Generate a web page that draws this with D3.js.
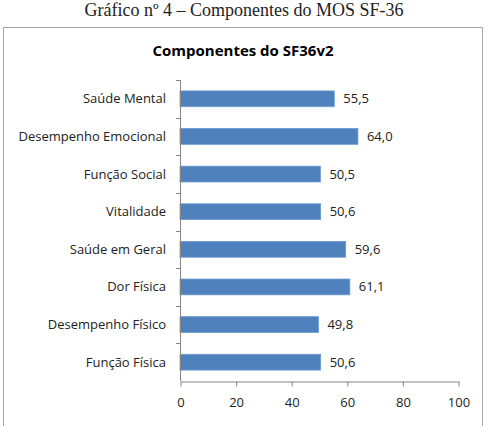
<!DOCTYPE html>
<html>
<head>
<meta charset="utf-8">
<script src="https://cdn.jsdelivr.net/npm/d3@7"></script>
<style>
  body { margin: 0; background: #fff; }
</style>
</head>
<body>
<svg id="chart"></svg>
<script>
// categories from top to bottom
const categories = ['Saúde Mental', 'Desempenho Emocional', 'Função Social', 'Vitalidade',
    'Saúde em Geral', 'Dor Física', 'Desempenho Físico', 'Função Física'];
const values = [55.5, 64.0, 50.5, 50.6, 59.6, 61.1, 49.8, 50.6];
const xticks = [0, 20, 40, 60, 80, 100];

const width = 492, height = 426;
const margin = {top: 80, right: 34, bottom: 45, left: 180};

const svg = d3.select('#chart')
    .attr('width', width)
    .attr('height', height);

// caption above the chart frame
svg.append('text')
    .attr('x', 244)
    .attr('y', 16)
    .attr('text-anchor', 'middle')
    .style('font-family', '"Liberation Serif", serif')
    .style('font-size', '18px')
    .style('fill', '#222')
    .text('Gráfico nº 4 – Componentes do MOS SF-36');

// chart frame
svg.append('rect')
    .attr('x', 3.5)
    .attr('y', 27.5)
    .attr('width', 479)
    .attr('height', 410)
    .attr('fill', '#fff')
    .attr('stroke', '#a6a6a6')
    .attr('stroke-width', 1);

svg.append('text')
    .attr('x', 243)
    .attr('y', 56)
    .attr('text-anchor', 'middle')
    .style('font-family', '"Open Sans", sans-serif')
    .style('font-size', '15px')
    .style('font-weight', 'bold')
    .style('fill', '#000')
    .text('Componentes do SF36v2');

const inner_width = width - margin.left - margin.right;
const inner_height = height - margin.top - margin.bottom;

const chart = svg.append('g')
    .attr('transform', `translate(${margin.left}, ${margin.top})`);

const xscale = d3.scaleLinear()
    .domain([0, 100])
    .range([0, inner_width]);

const yscale = d3.scaleBand()
    .domain(categories)
    .range([0, inner_height])
    .paddingInner(0.58)
    .paddingOuter(0.29);

const yband = d3.scaleBand()
    .domain(categories)
    .range([0, inner_height]);

// bars
chart.selectAll('.bar')
    .data(categories)
    .join('rect')
    .attr('class', 'bar')
    .attr('x', 0)
    .attr('y', d => yscale(d))
    .attr('width', (d, i) => xscale(values[i]))
    .attr('height', yscale.bandwidth())
    .attr('fill', '#4f81bd')
    .attr('stroke', '#6d9bd1')
    .attr('stroke-width', 0.8);

// value labels
chart.selectAll('.val')
    .data(categories)
    .join('text')
    .attr('class', 'val')
    .attr('x', (d, i) => xscale(values[i]) + 9)
    .attr('y', d => yscale(d) + yscale.bandwidth() / 2)
    .attr('dy', '0.35em')
    .style('font-family', '"Open Sans", sans-serif')
    .style('font-size', '13px')
    .style('fill', '#222')
    .text((d, i) => values[i].toFixed(1).replace('.', ','));

// y axis: line with ticks at band boundaries
const yaxis_group = chart.append('g');
yaxis_group.append('line')
    .attr('x1', 0.5).attr('x2', 0.5)
    .attr('y1', 0).attr('y2', inner_height)
    .attr('stroke', '#868686');
yaxis_group.selectAll('.ytick')
    .data(categories)
    .join('line')
    .attr('class', 'ytick')
    .attr('x1', -4).attr('x2', 0.5)
    .attr('y1', d => Math.round(yband(d)) + 0.5)
    .attr('y2', d => Math.round(yband(d)) + 0.5)
    .attr('stroke', '#868686');
yaxis_group.selectAll('.ylab')
    .data(categories)
    .join('text')
    .attr('class', 'ylab')
    .attr('x', -14)
    .attr('y', d => yband(d) + yband.bandwidth() / 2)
    .attr('dy', '0.35em')
    .attr('text-anchor', 'end')
    .style('font-family', '"Open Sans", sans-serif')
    .style('font-size', '13px')
    .style('fill', '#222')
    .text(d => d);

// x axis
const xaxis = d3.axisBottom(xscale)
    .tickValues(xticks)
    .tickSize(5)
    .tickSizeOuter(0);

const xaxis_group = chart.append('g')
    .attr('transform', `translate(0.5, ${inner_height + 0.5})`)
    .call(xaxis);

xaxis_group.select('.domain').attr('stroke', '#868686');
xaxis_group.selectAll('.tick line').attr('stroke', '#868686');
xaxis_group.selectAll('.tick text')
    .attr('y', 16)
    .style('font-family', '"Open Sans", sans-serif')
    .style('font-size', '13px')
    .style('fill', '#222');
</script>
</body>
</html>
